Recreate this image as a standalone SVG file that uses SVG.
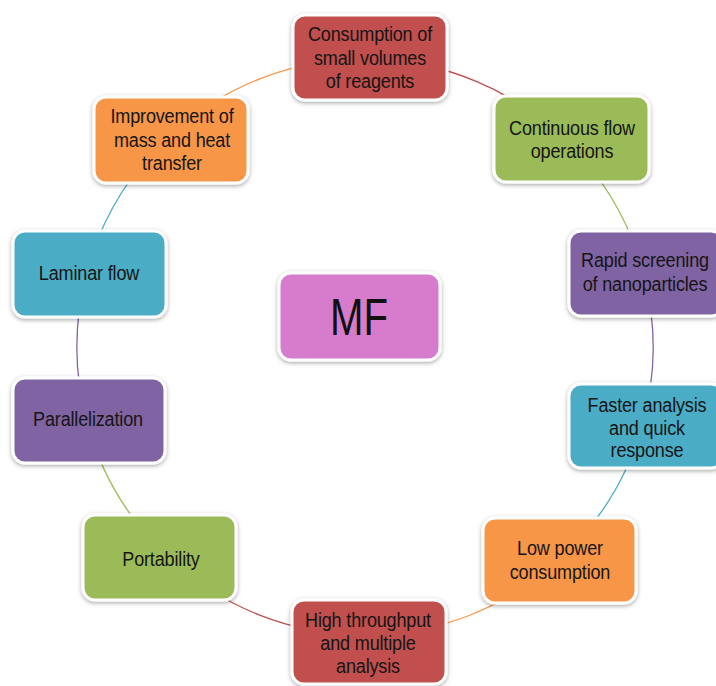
<svg xmlns="http://www.w3.org/2000/svg" width="716" height="686" viewBox="0 0 716 686">
<defs>
<filter id="sh" x="-10%" y="-10%" width="120%" height="125%">
<feDropShadow dx="0" dy="1.5" stdDeviation="2" flood-color="#000" flood-opacity="0.35"/>
</filter>
<style>
.box{stroke:#fff;stroke-width:3;filter:url(#sh)}
.red{fill:#C0504D}.green{fill:#9BBB59}.purple{fill:#8064A2}.teal{fill:#4BACC6}.orange{fill:#F79646}.pink{fill:#D77BCD}
.t{font-family:"Liberation Sans",Arial,sans-serif;font-size:21px;letter-spacing:-0.2px;fill:#151515;text-anchor:middle}
.mf{font-family:"Liberation Sans",Arial,sans-serif;font-size:52px;fill:#111;text-anchor:middle}
.c{fill:none;stroke-width:1.3}
</style>
</defs>
<rect width="716" height="686" fill="#fff"/>
<g id="connectors">
<path class="c" stroke="#F79646" d="M167.5,137.4 A288,288 0 0 1 370,59"/>
<path class="c" stroke="#C0504D" d="M370,59 A288,288 0 0 1 568.6,143.4"/>
<path class="c" stroke="#9BBB59" d="M568.6,143.4 A288,288 0 0 1 643.2,272.5"/>
<path class="c" stroke="#8064A2" d="M643.2,272.5 A288,288 0 0 1 642.3,424.9"/>
<path class="c" stroke="#4BACC6" d="M642.3,424.9 A288,288 0 0 1 557.7,561"/>
<path class="c" stroke="#F79646" d="M557.7,561 A288,288 0 0 1 367,635"/>
<path class="c" stroke="#C0504D" d="M367,635 A288,288 0 0 1 166.4,555.6"/>
<path class="c" stroke="#9BBB59" d="M166.4,555.6 A288,288 0 0 1 86.8,421.5"/>
<path class="c" stroke="#8064A2" d="M86.8,421.5 A288,288 0 0 1 86.8,272.5"/>
<path class="c" stroke="#4BACC6" d="M86.8,272.5 A288,288 0 0 1 167.5,137.4"/>
</g>
<g id="n1"><rect class="box red" x="293" y="15" width="154" height="85" rx="12"/>
<text class="t" transform="scale(0.86,1)"><tspan x="430.23" y="41">Consumption of</tspan><tspan x="430.23" y="65">small volumes</tspan><tspan x="430.23" y="88">of reagents</tspan></text></g>
<g id="n2"><rect class="box green" x="494" y="96" width="155" height="86" rx="12"/>
<text class="t" transform="scale(0.86,1)"><tspan x="665.12" y="135">Continuous flow</tspan><tspan x="665.12" y="158">operations</tspan></text></g>
<g id="n3"><rect class="box purple" x="569" y="231" width="154" height="85" rx="12"/>
<text class="t" transform="scale(0.86,1)"><tspan x="750" y="267">Rapid screening</tspan><tspan x="750" y="291">of nanoparticles</tspan></text></g>
<g id="n4"><rect class="box teal" x="569" y="384" width="154" height="84" rx="12"/>
<text class="t" transform="scale(0.86,1)"><tspan x="752.33" y="412">Faster analysis</tspan><tspan x="752.33" y="435">and quick</tspan><tspan x="752.33" y="457">response</tspan></text></g>
<g id="n5"><rect class="box orange" x="483" y="518" width="153" height="85" rx="12"/>
<text class="t" transform="scale(0.86,1)"><tspan x="651.16" y="555">Low power</tspan><tspan x="651.16" y="579">consumption</tspan></text></g>
<g id="n6"><rect class="box red" x="292" y="600" width="154" height="84" rx="12"/>
<text class="t" transform="scale(0.86,1)"><tspan x="427.91" y="627">High throughput</tspan><tspan x="427.91" y="650">and multiple</tspan><tspan x="427.91" y="673">analysis</tspan></text></g>
<g id="n7"><rect class="box green" x="83" y="515" width="153" height="85" rx="12"/>
<text class="t" transform="scale(0.86,1)" x="187.21" y="566">Portability</text></g>
<g id="n8"><rect class="box purple" x="13" y="378" width="152" height="85" rx="12"/>
<text class="t" transform="scale(0.86,1)" x="102.33" y="426">Parallelization</text></g>
<g id="n9"><rect class="box teal" x="13" y="231" width="153" height="86" rx="12"/>
<text class="t" transform="scale(0.86,1)" x="103.49" y="280">Laminar flow</text></g>
<g id="n10"><rect class="box orange" x="94" y="97" width="154" height="86" rx="12"/>
<text class="t" transform="scale(0.86,1)"><tspan x="200" y="123">Improvement of</tspan><tspan x="200" y="147">mass and heat</tspan><tspan x="200" y="170">transfer</tspan></text></g>
<g id="mf"><rect class="box pink" x="279" y="273" width="161" height="87" rx="12"/>
<text class="mf" x="359" y="335" textLength="58" lengthAdjust="spacingAndGlyphs">MF</text></g>
</svg>
